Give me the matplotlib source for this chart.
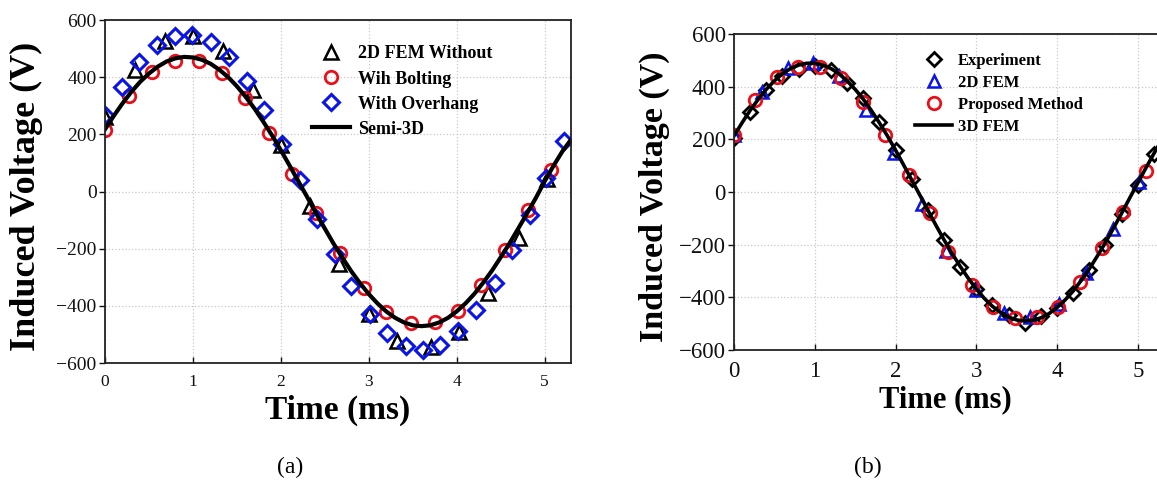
import matplotlib
matplotlib.use('Agg')
import matplotlib.pyplot as plt

# ---- panel (a) data ----
t_line_a = [0.0, 0.1, 0.2, 0.3, 0.4, 0.5, 0.6, 0.7, 0.8, 0.9, 1.0, 1.1, 1.2, 1.3, 1.4, 1.5,
            1.6, 1.7, 1.8, 1.9, 2.0, 2.1, 2.2, 2.3, 2.4, 2.5, 2.6, 2.7, 2.8, 2.9, 3.0, 3.1,
            3.2, 3.3, 3.4, 3.5, 3.6, 3.7, 3.8, 3.9, 4.0, 4.1, 4.2, 4.3, 4.4, 4.5, 4.6, 4.7,
            4.8, 4.9, 5.0, 5.1, 5.2, 5.3]
v_semi3d = [218, 265, 309, 349, 384, 413, 437, 455, 466, 471, 469, 461, 447, 426, 400, 368,
            331, 290, 244, 196, 144, 90, 35, -20, -76, -130, -183, -232, -279, -321, -359, -392,
            -420, -442, -458, -468, -471, -468, -458, -442, -419, -391, -358, -319, -277, -230, -181, -129,
            -76, -22, 36, 90, 140, 182]

t_without = [0.0, 0.34, 0.68, 1.0, 1.34, 1.68, 2.0, 2.33, 2.66, 3.0, 3.32, 3.71, 4.02, 4.35, 4.71, 5.03]
v_without = [262, 425, 525, 545, 492, 354, 162, -49, -253, -428, -523, -544, -490, -354, -161, 45]

t_bolting = [0.0, 0.27, 0.53, 0.80, 1.07, 1.33, 1.59, 1.87, 2.13, 2.40, 2.67, 2.94, 3.20, 3.48,
             3.75, 4.01, 4.28, 4.55, 4.81, 5.07]
v_bolting = [214, 333, 419, 456, 456, 416, 328, 205, 62, -74, -214, -337, -422, -461,
             -457, -419, -326, -204, -66, 74]

t_overhang = [0.0, 0.19, 0.39, 0.59, 0.80, 0.99, 1.20, 1.41, 1.61, 1.81, 2.01, 2.22, 2.41, 2.61,
              2.80, 3.01, 3.21, 3.42, 3.62, 3.81, 4.01, 4.22, 4.44, 4.63, 4.83, 5.01, 5.22]
v_overhang = [267, 364, 454, 512, 544, 547, 524, 469, 387, 284, 165, 39, -95, -218,
              -332, -428, -496, -539, -554, -536, -489, -416, -321, -204, -81, 47, 177]

# ---- panel (b) data ----
t_line_b = t_line_a
v_3dfem = [213, 263, 310, 352, 390, 422, 449, 469, 482, 489, 489, 482, 469, 449, 422, 390,
           353, 310, 263, 213, 159, 103, 46, -11, -69, -126, -181, -233, -282, -327, -368, -404,
           -434, -457, -475, -486, -490, -487, -478, -462, -439, -410, -376, -336, -292, -243, -192, -137,
           -81, -23, 34, 91, 146, 199]

t_exp = [0.0, 0.2, 0.4, 0.6, 0.8, 1.0, 1.2, 1.4, 1.6, 1.8, 2.0, 2.2, 2.4, 2.6, 2.8, 3.0, 3.2,
         3.4, 3.6, 3.8, 4.0, 4.2, 4.4, 4.6, 4.8, 5.0, 5.2]
v_exp = [205, 305, 388, 440, 468, 480, 465, 415, 357, 266, 159, 48, -68, -184, -285, -368, -430,
         -468, -497, -470, -440, -382, -298, -200, -82, 25, 146]

t_2dfem = [0.0, 0.35, 0.67, 0.98, 1.30, 1.63, 1.98, 2.33, 2.63, 3.0, 3.34, 3.66, 4.02, 4.36, 4.69, 5.02]
v_2dfem = [218, 381, 472, 489, 440, 311, 150, -45, -224, -372, -461, -475, -425, -306, -140, 38]

t_proposed = [0.0, 0.26, 0.53, 0.79, 1.07, 1.32, 1.60, 1.87, 2.17, 2.43, 2.65, 2.95, 3.21, 3.48,
              3.75, 4.01, 4.28, 4.56, 4.82, 5.10]
v_proposed = [218, 349, 436, 474, 474, 433, 342, 216, 65, -80, -228, -353, -436, -478,
              -474, -436, -341, -213, -76, 80]

yticks = [-600, -400, -200, 0, 200, 400, 600]
ytick_labels = ['\u2212600', '\u2212400', '\u2212200', '0', '200', '400', '600']
xticks = [0, 1, 2, 3, 4, 5]

plt.rcParams['font.family'] = ['Liberation Serif', 'DejaVu Serif']

fig = plt.figure(figsize=(11.57, 4.88), dpi=100)
ax1 = fig.add_axes([0.0908, 0.2561, 0.4028, 0.7029])
ax2 = fig.add_axes([0.6344, 0.2828, 0.3699, 0.6475])


def style_axes(ax, ytick_size, xtick_size):
    ax.set_xlim(0, 5.3)
    ax.set_ylim(-600, 600)
    ax.set_xticks(xticks)
    ax.set_yticks(yticks)
    ax.set_yticklabels(ytick_labels)
    ax.grid(True, color='#c8c8c8', linestyle=':', linewidth=0.9)
    ax.set_axisbelow(True)
    ax.tick_params(axis='y', direction='out', length=4, width=1.0, pad=2,
                   labelsize=ytick_size, colors='#111111')
    ax.tick_params(axis='x', direction='in', length=4, width=1.0, pad=8,
                   labelsize=xtick_size, colors='#111111')
    for sp in ax.spines.values():
        sp.set_linewidth(1.3)
        sp.set_color('#222222')


# panel (a)
style_axes(ax1, 14, 12.5)
ax1.plot(t_without, v_without, linestyle='none', marker='^', markersize=10.5,
         markerfacecolor='none', markeredgecolor='black', markeredgewidth=1.8,
         label='2D FEM Without')
ax1.plot(t_bolting, v_bolting, linestyle='none', marker='o', markersize=9,
         markerfacecolor='none', markeredgecolor='#e8101a', markeredgewidth=2.0,
         label='Wih Bolting')
ax1.plot(t_overhang, v_overhang, linestyle='none', marker='D', markersize=8.5,
         markerfacecolor='none', markeredgecolor='#0a14e6', markeredgewidth=2.2,
         label='With Overhang')
ax1.plot(t_line_a, v_semi3d, color='black', linewidth=3, label='Semi-3D')
ax1.set_xlabel('Time (ms)', fontsize=24, fontweight='bold')
ax1.set_ylabel('Induced Voltage (V)', fontsize=26, fontweight='bold')
ax1.xaxis.set_label_coords(0.5, -0.093)
ax1.yaxis.set_label_coords(-0.133, 0.487)
ax1.legend(loc='upper left', bbox_to_anchor=(0.2697, 0.907), bbox_transform=fig.transFigure,
           frameon=False, prop={'weight': 'bold', 'size': 13}, borderpad=0, borderaxespad=0,
           handlelength=2.1, handletextpad=0.45, labelspacing=0.45)

# panel (b)
style_axes(ax2, 16.5, 16.5)
ax2.plot(t_exp, v_exp, linestyle='none', marker='D', markersize=7.5,
         markerfacecolor='none', markeredgecolor='black', markeredgewidth=2.0,
         label='Experiment')
ax2.plot(t_2dfem, v_2dfem, linestyle='none', marker='^', markersize=9,
         markerfacecolor='none', markeredgecolor='#0a14e6', markeredgewidth=1.8,
         label='2D FEM')
ax2.plot(t_proposed, v_proposed, linestyle='none', marker='o', markersize=9,
         markerfacecolor='none', markeredgecolor='#e8101a', markeredgewidth=2.0,
         label='Proposed Method')
ax2.plot(t_line_b, v_3dfem, color='black', linewidth=2.6, label='3D FEM')
ax2.set_xlabel('Time (ms)', fontsize=22, fontweight='bold')
ax2.set_ylabel('Induced Voltage (V)', fontsize=24.5, fontweight='bold')
ax2.xaxis.set_label_coords(0.495, -0.11)
ax2.yaxis.set_label_coords(-0.15, 0.484)
ax2.legend(loc='upper left', bbox_to_anchor=(0.791, 0.891), bbox_transform=fig.transFigure,
           frameon=False, prop={'weight': 'bold', 'size': 12}, borderpad=0, borderaxespad=0,
           handlelength=2.2, handletextpad=0.35, labelspacing=0.36)

fig.text(290 / 1157, 1 - 467 / 488, '(a)', ha='center', va='center', fontsize=17)
fig.text(868 / 1157, 1 - 467 / 488, '(b)', ha='center', va='center', fontsize=17)

fig.savefig('out.png', dpi=100)
